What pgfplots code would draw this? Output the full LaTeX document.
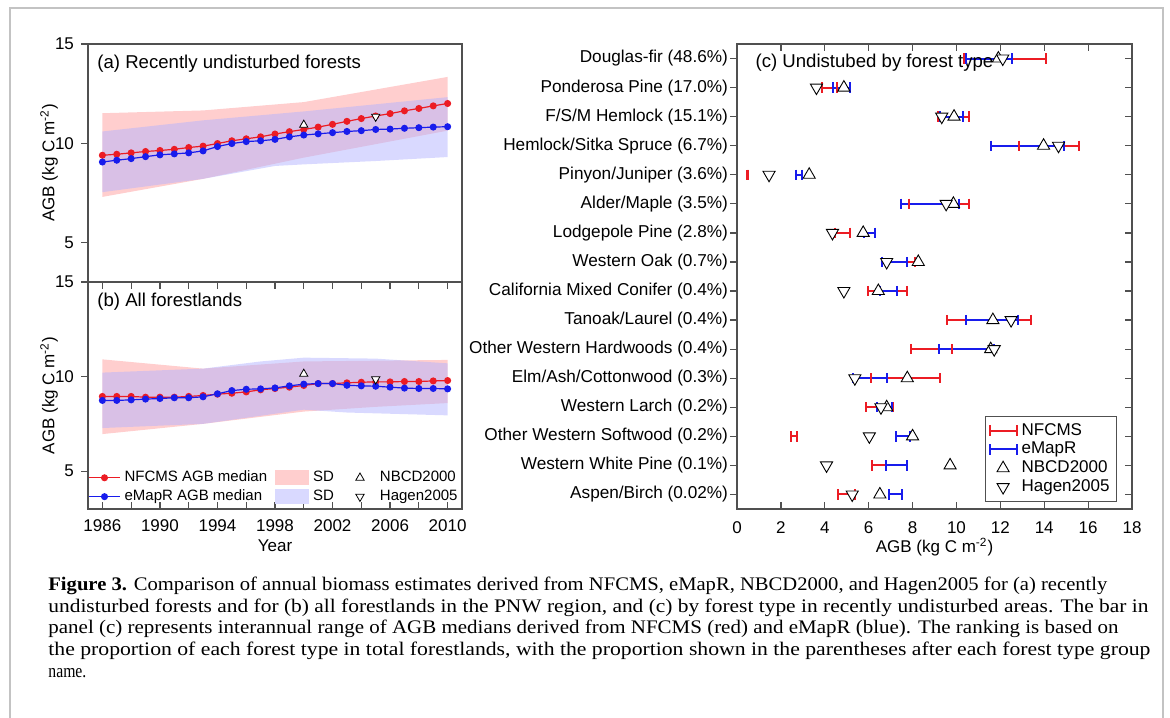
\documentclass[border=0pt]{standalone}
\usepackage{pgfplots}
\pgfplotsset{compat=1.18}
\usepackage{pgfplotstable}
\usepackage{graphicx}
\usepackage{fontspec}
\setmainfont{Liberation Sans}
\newfontfamily\capfont{Liberation Serif}

\definecolor{nfred}{RGB}{236,28,36}
\definecolor{emblue}{RGB}{24,28,236}
\definecolor{sdpink}{RGB}{255,206,206}
\definecolor{sdblue}{RGB}{180,180,255}
\definecolor{axgray}{RGB}{80,80,80}
\definecolor{framegray}{RGB}{195,195,195}

\newcommand{\fs}{\fontsize{8.5}{10}\selectfont}
\newcommand{\tfs}{\fontsize{9.3}{11}\selectfont}

\pgfplotsset{
  base/.style={
    scale only axis, anchor=south west,
    axis line style={axgray, line width=0.7pt},
    tick style={axgray, line width=0.6pt},
    major tick length=3.5pt,
    tick label style={font=\fs},
    label style={font=\fs},
    /pgf/number format/assume math mode=true,
  },
  linelegend/.style={legend image code/.code={\draw[mark repeat=2,mark phase=2,##1] plot coordinates {(0pt,0pt) (7.75pt,0pt) (15.5pt,0pt)};}},
  trilegend/.style={legend image code/.code={\path[draw=none, fill=none] (0pt,0pt) -- (17pt,0pt); \draw[##1] plot coordinates {(9pt,0pt)};}},
  patchlegend/.style={legend image code/.code={\fill[##1, draw=none] (0pt,-3.7pt) rectangle (17pt,3.7pt);}},
  barlegend/.style={legend image code/.code={\draw[##1] plot coordinates {(0pt,0pt) (13.5pt,0pt)};}},
  marklegend/.style={legend image code/.code={\draw[##1] plot coordinates {(6.75pt,0pt)};}},
}

\pgfplotstableread{
year nf em
1986 9.39 9.05
1987 9.44 9.14
1988 9.51 9.22
1989 9.58 9.32
1990 9.63 9.41
1991 9.69 9.46
1992 9.78 9.51
1993 9.85 9.61
1994 9.98 9.83
1995 10.12 9.98
1996 10.22 10.08
1997 10.32 10.12
1998 10.46 10.19
1999 10.58 10.32
2000 10.69 10.41
2001 10.81 10.47
2002 10.95 10.53
2003 11.10 10.59
2004 11.24 10.63
2005 11.37 10.69
2006 11.49 10.71
2007 11.63 10.75
2008 11.75 10.78
2009 11.88 10.81
2010 12.00 10.83
}\dataA

\pgfplotstableread{
year nf em
1986 8.95 8.74
1987 8.95 8.74
1988 8.95 8.77
1989 8.91 8.81
1990 8.91 8.84
1991 8.91 8.88
1992 8.95 8.88
1993 9.00 8.93
1994 9.07 9.09
1995 9.12 9.26
1996 9.19 9.33
1997 9.30 9.35
1998 9.37 9.40
1999 9.44 9.51
2000 9.53 9.60
2001 9.63 9.63
2002 9.63 9.63
2003 9.67 9.54
2004 9.70 9.51
2005 9.72 9.49
2006 9.72 9.44
2007 9.74 9.39
2008 9.74 9.37
2009 9.77 9.37
2010 9.79 9.35
}\dataB

% panel c: interannual ranges (lo/hi rows, nan separates categories)
\pgfplotstableread{
x y
10.36 1
14.09 1
nan nan
3.85 2
4.56 2
nan nan
9.18 3
10.59 3
nan nan
12.87 4
15.60 4
nan nan
0.44 5
0.50 5
nan nan
7.84 6
10.59 6
nan nan
4.46 7
5.14 7
nan nan
6.59 8
8.11 8
nan nan
5.95 9
7.73 9
nan nan
9.56 10
13.41 10
nan nan
7.91 11
9.81 11
nan nan
6.10 12
9.25 12
nan nan
5.86 13
7.09 13
nan nan
2.48 14
2.74 14
nan nan
6.13 15
6.77 15
nan nan
4.61 16
5.37 16
}\nfbars

\pgfplotstableread{
x y
10.45 1
12.52 1
nan nan
4.38 2
5.14 2
nan nan
9.25 3
10.29 3
nan nan
11.56 4
14.91 4
nan nan
2.68 5
2.94 5
nan nan
7.47 6
10.13 6
nan nan
5.80 7
6.28 7
nan nan
6.62 8
7.76 8
nan nan
6.51 9
7.30 9
nan nan
10.42 10
12.80 10
nan nan
9.20 11
11.69 11
nan nan
5.30 12
6.85 12
nan nan
6.39 13
7.05 13
nan nan
7.23 14
7.88 14
nan nan
6.77 15
7.76 15
nan nan
6.92 16
7.50 16
}\embars

\pgfplotstableread{
x y
11.91 1
4.87 2
9.89 3
13.97 4
3.29 5
9.86 6
5.75 7
8.26 8
6.44 9
11.66 10
11.56 11
7.76 12
6.82 13
8.00 14
9.71 15
6.51 16
}\nbcd

\pgfplotstableread{
x y
12.11 1
3.62 2
9.33 3
14.65 4
1.46 5
9.53 6
4.35 7
6.82 8
4.87 9
12.49 10
11.72 11
5.37 12
6.56 13
6.03 14
4.08 15
5.25 16
}\hagen

\begin{document}
\begin{tikzpicture}
\useasboundingbox (0,0) rectangle (585pt,358.5pt);
\draw[framegray, line width=1pt] (5pt,-2pt) -- (5pt,354.5pt) -- (581.5pt,354.5pt) -- (581.5pt,-2pt);

% ---------------- panel (a)
\begin{axis}[base, at={(44pt,217.5pt)}, width=187pt, height=119pt,
  xmin=1985, xmax=2011, ymin=3, ymax=15, xtick=\empty,
  ytick={5,10,15}, ytick pos=left, tick align=outside,
  ylabel={AGB (kg C m\textsuperscript{-2})},
  ylabel style={at={(axis description cs:-0.104,0.5)}, anchor=center}]
\addplot[fill=sdpink, draw=none] coordinates {(1986,11.51) (1993,11.65) (2000,12.07) (2010,13.34) (2010,10.63) (2000,9.27) (1993,8.2) (1986,7.29)} -- cycle;
\addplot[fill=sdblue, fill opacity=0.5, draw=none] coordinates {(1986,10.59) (1993,11.15) (2000,11.6) (2010,12.32) (2010,9.3) (2005,9.1) (2000,8.93) (1998,8.85) (1993,8.2) (1986,7.53)} -- cycle;
\addplot[nfred, line width=0.6pt, mark=*, mark size=1.45pt] table[x=year, y=nf] {\dataA};
\addplot[emblue, line width=0.6pt, mark=*, mark size=1.45pt] table[x=year, y=em] {\dataA};
\addplot[only marks, mark=triangle*, mark size=2.4pt, mark options={fill=white, draw=black, line width=0.4pt}] coordinates {(2000,10.92)};
\addplot[only marks, mark=triangle*, mark size=2.4pt, mark options={rotate=180, fill=white, draw=black, line width=0.4pt}] coordinates {(2005,11.34)};
\node[anchor=west, inner sep=0pt, font=\tfs] at (axis description cs:0.024,0.916) {(a) Recently undisturbed forests};
\end{axis}

% ---------------- panel (b) x ticks (inside)
\begin{axis}[base, at={(44pt,104pt)}, width=187pt, height=113.5pt,
  xmin=1985, xmax=2011, ymin=3, ymax=15,
  xtick={1986,1988,...,2010},
  xticklabels={1986,,1990,,1994,,1998,,2002,,2006,,2010},
  xticklabel style={yshift=-2pt},
  tick align=inside, ytick=\empty,
  xlabel={Year}, xlabel style={at={(axis description cs:0.5,-0.163)}, anchor=center},
  legend columns=3,
  legend style={at={(axis description cs:0,0)}, anchor=south west, xshift=-3pt, yshift=-1.5pt,
    draw=none, fill=none, font=\fontsize{7.5}{9}\selectfont, row sep=-1.5pt,
    /tikz/every even column/.append style={column sep=2pt}},
  legend cell align=left]
\addplot[fill=sdpink, draw=none, forget plot] coordinates {(1986,10.91) (1993,10.42) (2000,10.8) (2010,10.88) (2010,8.6) (2005,8.4) (2000,8.15) (1993,7.5) (1986,6.96)} -- cycle;
\addplot[fill=sdblue, fill opacity=0.5, draw=none, forget plot] coordinates {(1986,10.21) (1993,10.42) (1997,10.8) (2000,11.0) (2005,10.95) (2010,10.7) (2010,7.95) (2003,8.1) (2000,8.25) (1993,7.5) (1986,7.28)} -- cycle;
\addplot[nfred, line width=0.6pt, mark=*, mark size=1.45pt, forget plot] table[x=year, y=nf] {\dataB};
\addplot[emblue, line width=0.6pt, mark=*, mark size=1.45pt, forget plot] table[x=year, y=em] {\dataB};
\addplot[only marks, mark=triangle*, mark size=2.4pt, mark options={fill=white, draw=black, line width=0.4pt}, forget plot] coordinates {(2000,10.14)};
\addplot[only marks, mark=triangle*, mark size=2.4pt, mark options={rotate=180, fill=white, draw=black, line width=0.4pt}, forget plot] coordinates {(2005,9.86)};
\addlegendimage{linelegend, nfred, line width=0.6pt, mark=*, mark size=1.45pt}
\addlegendentry{NFCMS AGB median}
\addlegendimage{patchlegend, fill=sdpink}
\addlegendentry{SD}
\addlegendimage{trilegend, only marks, mark=triangle, mark size=2.4pt, black, line width=0.4pt}
\addlegendentry{NBCD2000}
\addlegendimage{linelegend, emblue, line width=0.6pt, mark=*, mark size=1.45pt}
\addlegendentry{eMapR AGB median}
\addlegendimage{patchlegend, fill=sdblue!50}
\addlegendentry{SD}
\addlegendimage{trilegend, only marks, mark=triangle, mark size=2.4pt, black, line width=0.4pt, mark options={rotate=180}}
\addlegendentry{Hagen2005}
\node[anchor=west, inner sep=0pt, font=\tfs] at (axis description cs:0.024,0.912) {(b) All forestlands};
\end{axis}
% ---------------- panel (b) y ticks (outside)
\begin{axis}[base, at={(44pt,104pt)}, width=187pt, height=113.5pt,
  xmin=1985, xmax=2011, ymin=3, ymax=15, hide x axis,
  ytick={5,10,15}, ytick pos=left, tick align=outside,
  ylabel={AGB (kg C m\textsuperscript{-2})},
  ylabel style={at={(axis description cs:-0.104,0.5)}, anchor=center}]
\end{axis}

% ---------------- panel (c)
\begin{axis}[base, at={(368.5pt,104pt)}, width=197.5pt, height=232.5pt,
  xmin=0, xmax=18, ymin=0.5, ymax=16.5, y dir=reverse,
  xtick={0,2,...,18}, tick align=inside,
  xticklabel style={yshift=-3pt},
  ytick={1,...,16}, ytick pos=right,
  yticklabel style={text opacity=0, draw=none},
  xlabel={AGB (kg C m\textsuperscript{-2})},
  xlabel style={at={(axis description cs:0.5,-0.082)}, anchor=center},
  legend style={at={(axis description cs:1,0)}, anchor=south east, xshift=-7.5pt, yshift=3.5pt,
    draw=axgray, line width=0.5pt, font=\fs, row sep=-2pt, inner sep=1.5pt},
  legend cell align=left]
\addplot[barlegend, nfred, line width=1pt, mark=|, mark size=2.6pt, unbounded coords=jump] table[x=x, y=y] {\nfbars};
\addlegendentry{NFCMS}
\addplot[barlegend, emblue, line width=1pt, mark=|, mark size=2.6pt, unbounded coords=jump] table[x=x, y=y] {\embars};
\addlegendentry{eMapR}
\addplot[marklegend, only marks, mark=triangle*, mark size=3.5pt, mark options={fill=white, draw=black, line width=0.45pt}] table[x=x, y=y] {\nbcd};
\addlegendentry{NBCD2000}
\addplot[marklegend, only marks, mark=triangle*, mark size=3.5pt, mark options={rotate=180, fill=white, draw=black, line width=0.45pt}] table[x=x, y=y] {\hagen};
\addlegendentry{Hagen2005}
\node[anchor=west, inner sep=0pt, font=\tfs] at (axis description cs:0.046,0.959) {(c) Undistubed by forest type};
\end{axis}
\begin{axis}[base, at={(368.5pt,104pt)}, width=197.5pt, height=232.5pt,
  xmin=0, xmax=18, ymin=0.5, ymax=16.5, y dir=reverse, hide x axis,
  ytick={1,...,16}, ytick pos=left, tick align=outside,
  yticklabel style={font=\fontsize{8.6}{10}\selectfont, xshift=2.5pt},
  yticklabels={{Douglas-fir (48.6\%)},{Ponderosa Pine (17.0\%)},{F/S/M Hemlock (15.1\%)},{Hemlock/Sitka Spruce (6.7\%)},{Pinyon/Juniper (3.6\%)},{Alder/Maple (3.5\%)},{Lodgepole Pine (2.8\%)},{Western Oak (0.7\%)},{California Mixed Conifer (0.4\%)},{Tanoak/Laurel (0.4\%)},{Other Western Hardwoods (0.4\%)},{Elm/Ash/Cottonwood (0.3\%)},{Western Larch (0.2\%)},{Other Western Softwood (0.2\%)},{Western White Pine (0.1\%)},{Aspen/Birch (0.02\%)}}]
\end{axis}

% ---------------- caption
\begin{scope}[every node/.style={anchor=base west, inner sep=0pt, font=\capfont\fontsize{9.6}{11}\selectfont}]
\node at (24pt,63.5pt) {\resizebox{529.5pt}{\height}{\textbf{Figure 3.} Comparison of annual biomass estimates derived from NFCMS, eMapR, NBCD2000, and Hagen2005 for (a) recently}};
\node at (24pt,52.5pt) {\resizebox{550pt}{\height}{undisturbed forests and for (b) all forestlands in the PNW region, and (c) by forest type in recently undisturbed areas. The bar in}};
\node at (24pt,41.75pt) {\resizebox{535pt}{\height}{panel (c) represents interannual range of AGB medians derived from NFCMS (red) and eMapR (blue). The ranking is based on}};
\node at (24pt,31pt) {\resizebox{551pt}{\height}{the proportion of each forest type in total forestlands, with the proportion shown in the parentheses after each forest type group}};
\node at (24pt,20pt) {\resizebox{19pt}{\height}{name.}};
\end{scope}
\end{tikzpicture}
\end{document}
